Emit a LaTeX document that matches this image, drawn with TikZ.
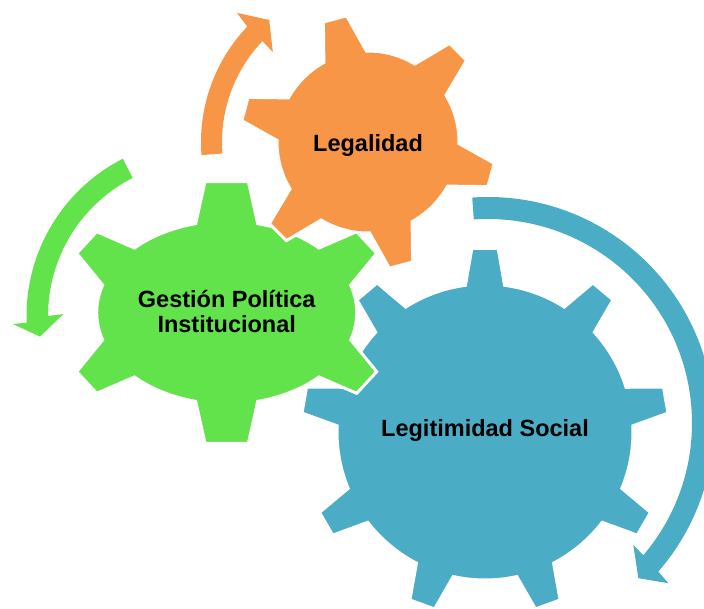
\documentclass[tikz,border=0pt]{standalone}
\usepackage{fontspec}
\setmainfont{Liberation Sans}

\definecolor{gearorange}{RGB}{247,150,70}
\definecolor{geargreen}{RGB}{98,226,75}
\definecolor{gearblue}{RGB}{75,172,198}

\tikzset{
  gear/.style={fill=#1, draw=white, line width=3pt},
  turn/.style={fill=#1},
  gearlabel/.style={font=\fontsize{23.5}{25.5}\selectfont\bfseries, align=center, inner sep=0pt},
}

\begin{document}
\begin{tikzpicture}[x=1pt, y=1pt]
\useasboundingbox (0,0) rectangle (704,-608);
\clip (0,0) rectangle (704,-608);
\coordinate (legal) at (368,-142);
\coordinate (gestion) at (226.7,-312.5);
\coordinate (social) at (485,-432);
\coordinate (gturn) at (203,-316);
\coordinate (sturn) at (488,-423);
% Turning arrows
\path[turn=gearorange, shift={(legal)}] (184.5:167) arc[start angle=184.5, end angle=136.3, radius=167]
  -- (135.4:184) -- (129:157) -- (136.6:131) -- (136.3:146)
  arc[start angle=136.3, end angle=184.5, radius=146] -- cycle;
\path[turn=geargreen, shift={(gturn)}] (117:176.5) arc[start angle=117, end angle=182.2, radius=176.5]
  -- (182.4:190.5) -- (187.2:164.3) -- (179.2:139.7) -- (180:155)
  arc[start angle=180, end angle=117, radius=155] -- cycle;
\path[turn=gearblue, shift={(sturn)}] (94:226) arc[start angle=94, end angle=-41.1, radius=226]
  -- (-41.6:241.3) -- (-45.9:216.1) -- (-40:189.7) -- (-40.4:204)
  arc[start angle=-40.4, end angle=94, radius=204] -- cycle;
% Legitimidad Social gear
\path[gear=gearblue, shift={(social)}] (10-7.6:148)
  \foreach \a in {10,50,...,330} {
    -- (\a-4.1:184) -- (\a+4.1:184) -- (\a+7.6:148)
    arc[start angle=\a+7.6, end angle=\a+32.4, radius=148]
  } -- cycle;
% Gestion gear (wide)
\path[gear=geargreen, shift={(gestion)}]
  (44.8:130pt and 91.5pt) arc[start angle=44.8, end angle=76.2, x radius=130pt, y radius=91.5pt]
  -- (21.7,130.8) -- (-21.7,130.8) -- (103.8:130pt and 91.5pt)
  arc[start angle=103.8, end angle=135.2, x radius=130pt, y radius=91.5pt]
  -- (-130,80.8) -- (-150,59.2) -- (162.6:130pt and 91.5pt)
  arc[start angle=162.6, end angle=197.4, x radius=130pt, y radius=91.5pt]
  -- (-150,-59.2) -- (-130,-80.8) -- (224.8:130pt and 91.5pt)
  arc[start angle=224.8, end angle=256.2, x radius=130pt, y radius=91.5pt]
  -- (-21.7,-130.8) -- (21.7,-130.8) -- (283.8:130pt and 91.5pt)
  arc[start angle=283.8, end angle=315.2, x radius=130pt, y radius=91.5pt]
  -- (130,-80.8) -- (150,-59.2) -- (342.6:130pt and 91.5pt)
  arc[start angle=342.6, end angle=377.4, x radius=130pt, y radius=91.5pt]
  -- (150,59.2) -- (130,80.8) -- cycle;
% Legalidad gear
\path[gear=gearorange, shift={(legal)}] (105-14:91)
  \foreach \a in {105,165,...,405} {
    -- (\a-5.4:128) -- (\a+5.4:128) -- (\a+14:91)
    arc[start angle=\a+14, end angle=\a+46, radius=91]
  } -- cycle;
% Labels
\node[gearlabel, anchor=base, yshift=-9.7] (legaltext) at (legal) {Legalidad};
\node[gearlabel, anchor=base, yshift=-20.2] (gestiontext) at (gestion) {Gestión Política\\Institucional};
\node[gearlabel, anchor=base, yshift=-4] (socialtext) at (social) {Legitimidad Social};
\end{tikzpicture}
\end{document}
